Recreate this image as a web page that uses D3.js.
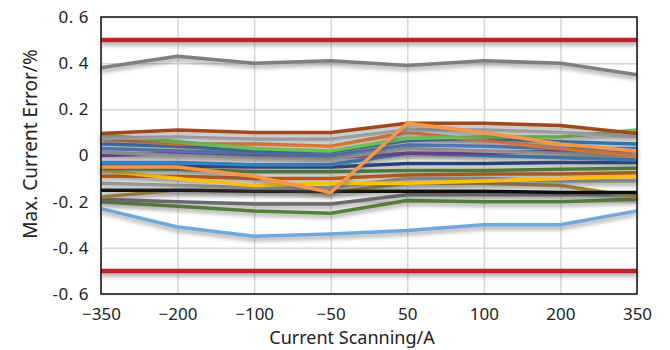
<!DOCTYPE html>
<html>
<head>
<meta charset="utf-8">
<script src="https://cdn.jsdelivr.net/npm/d3@7"></script>
<style>
  body { margin: 0; background: #fff; }
  text { font-family: "Noto Sans", "Open Sans", sans-serif; fill: #222; }
</style>
</head>
<body>
<script>

var categories = ["-350", "-200", "-100", "-50", "50", "100", "200", "350"];
var xTickLabels = ["\u2212350", "\u2212200", "\u2212100", "\u221250", "50", "100", "200", "350"];
var yTicks = [0.6, 0.4, 0.2, 0, -0.2, -0.4, -0.6];
var yTickLabels = ["0. 6", "0. 4", "0. 2", "0", "-0. 2", "-0. 4", "-0. 6"];
var limitValues = [0.5, -0.5];

var grayTop     = [0.38, 0.43, 0.40, 0.41, 0.39, 0.41, 0.40, 0.35];
var brown       = [0.095, 0.11, 0.10, 0.10, 0.14, 0.14, 0.13, 0.095];
var grayA       = [0.075, 0.08, 0.07, 0.07, 0.11, 0.11, 0.10, 0.08];
var greenLight  = [0.09, 0.06, 0.03, 0.02, 0.075, 0.08, 0.08, 0.11];
var orange      = [0.07, 0.05, 0.05, 0.04, 0.10, 0.065, 0.03, 0.0];
var steelBlue   = [0.05, 0.04, 0.02, 0.015, 0.065, 0.075, 0.06, 0.05];
var cornflower  = [0.03, 0.02, 0.01, 0.0, 0.045, 0.04, 0.03, 0.03];
var grayB       = [0.015, 0.0, -0.01, -0.015, 0.03, 0.02, 0.01, 0.01];
var purple      = [0.0, 0.01, 0.0, -0.01, 0.01, 0.01, 0.02, 0.01];
var brightBlue  = [-0.03, -0.03, -0.04, -0.04, 0.01, 0.0, -0.01, -0.02];
var navy        = [-0.045, -0.045, -0.05, -0.05, -0.035, -0.035, -0.03, -0.03];
var darkGreen   = [-0.055, -0.06, -0.07, -0.07, -0.065, -0.065, -0.06, -0.055];
var orangeRed   = [-0.09, -0.09, -0.10, -0.10, -0.085, -0.08, -0.08, -0.075];
var yellow      = [-0.065, -0.10, -0.13, -0.12, -0.12, -0.11, -0.10, -0.09];
var grayC       = [-0.12, -0.13, -0.14, -0.14, -0.10, -0.10, -0.11, -0.11];
var black       = [-0.15, -0.15, -0.155, -0.155, -0.155, -0.155, -0.16, -0.16];
var olive       = [-0.18, -0.15, -0.15, -0.16, -0.12, -0.12, -0.13, -0.18];
var darkGray    = [-0.19, -0.20, -0.21, -0.21, -0.17, -0.17, -0.17, -0.17];
var greenLow    = [-0.20, -0.22, -0.24, -0.25, -0.195, -0.20, -0.20, -0.19];
var lightBlue   = [-0.23, -0.31, -0.35, -0.34, -0.325, -0.30, -0.30, -0.24];
var lightOrange = [-0.05, -0.05, -0.09, -0.16, 0.14, 0.10, 0.05, 0.02];

var series = [
  {values: grayTop, color: "#7f7f7f"},
  {values: lightBlue, color: "#6fa8dc"},
  {values: greenLow, color: "#548235"},
  {values: darkGray, color: "#6b6b6b"},
  {values: olive, color: "#a58530"},
  {values: black, color: "#111111"},
  {values: grayC, color: "#9a9a9a"},
  {values: orangeRed, color: "#c55a11"},
  {values: yellow, color: "#ffc000"},
  {values: darkGreen, color: "#4e7d30"},
  {values: navy, color: "#203f7a"},
  {values: brightBlue, color: "#2f86d1"},
  {values: purple, color: "#7030a0"},
  {values: grayB, color: "#a5a5a5"},
  {values: cornflower, color: "#4f7fcf"},
  {values: steelBlue, color: "#2e75b6"},
  {values: orange, color: "#ed7d31"},
  {values: greenLight, color: "#70c152"},
  {values: grayA, color: "#a6a6a6"},
  {values: brown, color: "#9e4a1e"},
  {values: lightOrange, color: "#f79646"}
];

var width = 670, height = 350;
var margin = {top: 17, right: 33, bottom: 56, left: 101};
var innerW = width - margin.left - margin.right,
    innerH = height - margin.top - margin.bottom;

var svg = d3.select("body").append("svg")
    .attr("width", width)
    .attr("height", height);

// drop shadow under every line; user space so flat lines keep it
var defs = svg.append("defs");
var shadow = defs.append("filter")
    .attr("id", "shadow")
    .attr("filterUnits", "userSpaceOnUse")
    .attr("x", -10).attr("y", -20)
    .attr("width", innerW + 20).attr("height", innerH + 40);
shadow.append("feDropShadow")
    .attr("dx", 0).attr("dy", 3)
    .attr("stdDeviation", 2)
    .attr("flood-color", "#555")
    .attr("flood-opacity", 0.55);

var g = svg.append("g")
    .attr("transform", "translate(" + margin.left + "," + margin.top + ")");

var x = d3.scalePoint().domain(categories).range([0, innerW]);
var y = d3.scaleLinear().domain([-0.6, 0.6]).range([innerH, 0]);

// grid
g.append("g")
    .attr("class", "grid")
    .call(d3.axisLeft(y).tickValues(yTicks).tickSize(-innerW).tickFormat(""))
    .call(function(s) { s.select(".domain").remove(); })
    .selectAll("line").attr("stroke", "#d6d6d6").attr("stroke-width", 1.5);

g.append("g")
    .attr("class", "grid")
    .attr("transform", "translate(0," + innerH + ")")
    .call(d3.axisBottom(x).tickSize(-innerH).tickFormat(""))
    .call(function(s) { s.select(".domain").remove(); })
    .selectAll("line").attr("stroke", "#d6d6d6").attr("stroke-width", 1.5);

// limit lines
g.selectAll(".limit")
    .data(limitValues)
    .enter().append("line")
    .attr("class", "limit")
    .attr("x1", 0).attr("x2", innerW)
    .attr("y1", function(d) { return y(d); })
    .attr("y2", function(d) { return y(d); })
    .attr("stroke", "#c0232c")
    .attr("stroke-width", 4.5)
    .attr("filter", "url(#shadow)");

var line = d3.line()
    .x(function(d, i) { return x(categories[i]); })
    .y(function(d) { return y(d); });

g.selectAll(".series")
    .data(series)
    .enter().append("path")
    .attr("class", "series")
    .attr("d", function(d) { return line(d.values); })
    .attr("fill", "none")
    .attr("stroke", function(d) { return d.color; })
    .attr("stroke-width", 3.5)
    .attr("stroke-linejoin", "round")
    .attr("filter", "url(#shadow)");

// frame
g.append("rect")
    .attr("width", innerW).attr("height", innerH)
    .attr("fill", "none")
    .attr("stroke", "#111")
    .attr("stroke-width", 1.5);

// y tick labels
var yAxis = g.append("g")
    .call(d3.axisLeft(y).tickValues(yTicks).tickSize(0).tickPadding(12)
      .tickFormat(function(d, i) { return yTickLabels[i]; }));
yAxis.select(".domain").remove();
yAxis.selectAll("text")
    .style("font-family", "\"Noto Sans\", sans-serif")
    .style("font-size", "17px")
    .style("letter-spacing", "0.5px")
    .attr("fill", "#222");

// x tick labels
var xAxis = g.append("g")
    .attr("transform", "translate(0," + innerH + ")")
    .call(d3.axisBottom(x).tickSize(0).tickPadding(14)
      .tickFormat(function(d, i) { return xTickLabels[i]; }));
xAxis.select(".domain").remove();
xAxis.selectAll("text")
    .style("font-family", "\"Noto Sans\", sans-serif")
    .style("font-size", "17px")
    .attr("fill", "#222");

svg.append("text")
    .attr("x", 352).attr("y", 344)
    .attr("text-anchor", "middle")
    .style("font-size", "18px")
    .text("Current Scanning/A");

svg.append("text")
    .attr("transform", "translate(37,144) rotate(-90)")
    .attr("text-anchor", "middle")
    .style("font-size", "19px")
    .text("Max. Current Error/%");

</script>
</body>
</html>
